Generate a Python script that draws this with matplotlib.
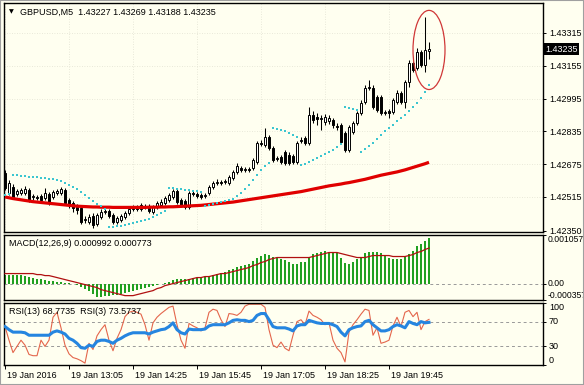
import numpy as np
import matplotlib
matplotlib.use("Agg")
import matplotlib.pyplot as plt
from matplotlib.patches import Ellipse, Rectangle
from matplotlib.transforms import ScaledTranslation

plt.rcParams['font.family'] = ['Liberation Sans', 'DejaVu Sans']
plt.rcParams['font.size'] = 6.5

# GBPUSD M5 candles
opens = np.array([
    1.42632, 1.42534, 1.42563, 1.42529, 1.42534, 1.42534, 1.42549, 1.42515, 1.42515, 1.42520,
    1.42510, 1.42529, 1.42515, 1.42534, 1.42534, 1.42549, 1.42500, 1.42485, 1.42466, 1.42461,
    1.42402, 1.42393, 1.42422, 1.42383, 1.42417, 1.42441, 1.42446, 1.42427, 1.42393, 1.42402,
    1.42417, 1.42437, 1.42456, 1.42461, 1.42456, 1.42471, 1.42471, 1.42441, 1.42466, 1.42476,
    1.42485, 1.42500, 1.42515, 1.42544, 1.42500, 1.42495, 1.42466, 1.42534, 1.42529, 1.42524,
    1.42520, 1.42534, 1.42563, 1.42583, 1.42588, 1.42588, 1.42583, 1.42607, 1.42637, 1.42656,
    1.42646, 1.42651, 1.42656, 1.42685, 1.42778, 1.42768, 1.42807, 1.42754, 1.42700, 1.42710,
    1.42734, 1.42720, 1.42715, 1.42685, 1.42788, 1.42803, 1.42778, 1.42915, 1.42905, 1.42895,
    1.42881, 1.42886, 1.42890, 1.42861, 1.42866, 1.42827, 1.42744, 1.42832, 1.42876, 1.42925,
    1.42978, 1.43047, 1.43047, 1.43003, 1.43003, 1.42925, 1.42934, 1.42929, 1.42978, 1.43022,
    1.42978, 1.43076, 1.43169, 1.43144, 1.43222, 1.43159, 1.43227])
highs = np.array([
    1.42646, 1.42598, 1.42578, 1.42554, 1.42559, 1.42568, 1.42559, 1.42529, 1.42524, 1.42529,
    1.42559, 1.42539, 1.42549, 1.42554, 1.42563, 1.42559, 1.42510, 1.42495, 1.42480, 1.42471,
    1.42422, 1.42432, 1.42437, 1.42437, 1.42456, 1.42456, 1.42456, 1.42437, 1.42422, 1.42432,
    1.42446, 1.42471, 1.42476, 1.42476, 1.42485, 1.42480, 1.42480, 1.42476, 1.42495, 1.42505,
    1.42520, 1.42534, 1.42554, 1.42559, 1.42510, 1.42505, 1.42544, 1.42544, 1.42539, 1.42534,
    1.42534, 1.42573, 1.42593, 1.42602, 1.42598, 1.42602, 1.42622, 1.42646, 1.42681, 1.42666,
    1.42661, 1.42661, 1.42705, 1.42788, 1.42793, 1.42851, 1.42817, 1.42764, 1.42715, 1.42720,
    1.42744, 1.42734, 1.42724, 1.42788, 1.42807, 1.42812, 1.42954, 1.42934, 1.42925, 1.42915,
    1.42920, 1.42915, 1.42900, 1.42876, 1.42876, 1.42837, 1.42866, 1.42886, 1.42934, 1.42988,
    1.43061, 1.43086, 1.43061, 1.43012, 1.43012, 1.42939, 1.42944, 1.42998, 1.43037, 1.43032,
    1.43086, 1.43183, 1.43178, 1.43242, 1.43232, 1.43393, 1.43269])
lows = np.array([
    1.42549, 1.42524, 1.42505, 1.42520, 1.42524, 1.42524, 1.42490, 1.42500, 1.42500, 1.42490,
    1.42500, 1.42476, 1.42505, 1.42524, 1.42524, 1.42476, 1.42461, 1.42441, 1.42432, 1.42383,
    1.42388, 1.42383, 1.42363, 1.42373, 1.42407, 1.42432, 1.42412, 1.42383, 1.42383, 1.42393,
    1.42407, 1.42427, 1.42446, 1.42446, 1.42446, 1.42456, 1.42437, 1.42432, 1.42456, 1.42466,
    1.42476, 1.42490, 1.42505, 1.42480, 1.42466, 1.42456, 1.42456, 1.42520, 1.42510, 1.42505,
    1.42510, 1.42524, 1.42554, 1.42573, 1.42573, 1.42578, 1.42573, 1.42598, 1.42627, 1.42637,
    1.42637, 1.42637, 1.42646, 1.42676, 1.42764, 1.42759, 1.42744, 1.42685, 1.42690, 1.42676,
    1.42671, 1.42671, 1.42676, 1.42676, 1.42778, 1.42768, 1.42768, 1.42876, 1.42866, 1.42842,
    1.42866, 1.42871, 1.42851, 1.42842, 1.42773, 1.42734, 1.42734, 1.42822, 1.42866, 1.42915,
    1.42968, 1.43037, 1.42944, 1.42929, 1.42915, 1.42915, 1.42900, 1.42920, 1.42968, 1.42968,
    1.42949, 1.43051, 1.43125, 1.43134, 1.43149, 1.43125, 1.43188])
closes = np.array([
    1.42559, 1.42583, 1.42515, 1.42544, 1.42549, 1.42554, 1.42500, 1.42520, 1.42510, 1.42500,
    1.42534, 1.42485, 1.42539, 1.42544, 1.42554, 1.42485, 1.42476, 1.42461, 1.42451, 1.42393,
    1.42407, 1.42417, 1.42378, 1.42427, 1.42441, 1.42446, 1.42422, 1.42393, 1.42412, 1.42422,
    1.42437, 1.42456, 1.42461, 1.42456, 1.42476, 1.42466, 1.42446, 1.42466, 1.42485, 1.42490,
    1.42510, 1.42524, 1.42544, 1.42490, 1.42476, 1.42466, 1.42534, 1.42529, 1.42520, 1.42515,
    1.42524, 1.42563, 1.42583, 1.42588, 1.42583, 1.42593, 1.42612, 1.42637, 1.42666, 1.42646,
    1.42651, 1.42646, 1.42695, 1.42778, 1.42773, 1.42807, 1.42754, 1.42695, 1.42705, 1.42685,
    1.42681, 1.42681, 1.42685, 1.42778, 1.42793, 1.42778, 1.42915, 1.42890, 1.42895, 1.42900,
    1.42905, 1.42900, 1.42866, 1.42856, 1.42783, 1.42744, 1.42856, 1.42876, 1.42925, 1.42973,
    1.43047, 1.43051, 1.42954, 1.42939, 1.42925, 1.42929, 1.42925, 1.42988, 1.43022, 1.42978,
    1.43076, 1.43169, 1.43134, 1.43222, 1.43159, 1.43232, 1.43235])

# moving average (thick red)
ma = np.array([
    1.42515, 1.42511, 1.42507, 1.42504, 1.42501, 1.42498, 1.42495, 1.42492, 1.42490, 1.42488,
    1.42486, 1.42484, 1.42482, 1.42480, 1.42478, 1.42476, 1.42474, 1.42472, 1.42470, 1.42469,
    1.42468, 1.42467, 1.42466, 1.42466, 1.42465, 1.42465, 1.42465, 1.42464, 1.42464, 1.42464,
    1.42464, 1.42464, 1.42464, 1.42464, 1.42464, 1.42464, 1.42465, 1.42465, 1.42465, 1.42466,
    1.42466, 1.42467, 1.42467, 1.42468, 1.42469, 1.42470, 1.42471, 1.42472, 1.42473, 1.42474,
    1.42476, 1.42478, 1.42480, 1.42482, 1.42484, 1.42486, 1.42488, 1.42490, 1.42493, 1.42496,
    1.42499, 1.42502, 1.42505, 1.42508, 1.42511, 1.42514, 1.42517, 1.42520, 1.42523, 1.42526,
    1.42529, 1.42532, 1.42535, 1.42538, 1.42541, 1.42545, 1.42549, 1.42553, 1.42557, 1.42561,
    1.42565, 1.42569, 1.42572, 1.42575, 1.42578, 1.42582, 1.42585, 1.42589, 1.42593, 1.42597,
    1.42601, 1.42606, 1.42611, 1.42616, 1.42621, 1.42625, 1.42629, 1.42633, 1.42637, 1.42642,
    1.42647, 1.42653, 1.42659, 1.42665, 1.42671, 1.42677, 1.42684])

# parabolic SAR (cyan dots)
sar = np.array([
    1.42524, 1.42529,
    1.42622, 1.42622, 1.42617, 1.42617, 1.42612, 1.42612, 1.42612, 1.42607, 1.42607, 1.42602,
    1.42602, 1.42598, 1.42593, 1.42583, 1.42573, 1.42563, 1.42554, 1.42539, 1.42524, 1.42510,
    1.42495, 1.42480, 1.42471, 1.42456,
    1.42368, 1.42368, 1.42373, 1.42373, 1.42378, 1.42383, 1.42388, 1.42393, 1.42398, 1.42402,
    1.42407, 1.42417, 1.42427, 1.42437, 1.42446,
    1.42559, 1.42559, 1.42554, 1.42554, 1.42549, 1.42549, 1.42544, 1.42544, 1.42539,
    1.42471, 1.42476, 1.42480, 1.42485, 1.42490, 1.42495, 1.42500, 1.42505, 1.42520, 1.42534,
    1.42554, 1.42573, 1.42598, 1.42622, 1.42646, 1.42666, 1.42681,
    1.42851, 1.42846, 1.42842, 1.42837, 1.42827, 1.42817, 1.42807,
    1.42671, 1.42676, 1.42685, 1.42695, 1.42705, 1.42715, 1.42724, 1.42734, 1.42744, 1.42759,
    1.42773,
    1.42954, 1.42949, 1.42944, 1.42939,
    1.42734, 1.42749, 1.42764, 1.42778, 1.42798, 1.42817, 1.42837, 1.42851, 1.42866, 1.42886,
    1.42900, 1.42915, 1.42934, 1.42954, 1.42973, 1.42998, 1.43027, 1.43061])

# MACD(12,26,9): histogram and signal line
macd_main = np.array([
    196e-6, 196e-6, 196e-6, 196e-6, 196e-6, 174e-6, 153e-6, 131e-6, 109e-6, 109e-6,
    87e-6, 65e-6, 65e-6, 44e-6, 44e-6, 22e-6, 22e-6, 0.0, -22e-6, -65e-6,
    -109e-6, -153e-6, -218e-6, -283e-6, -283e-6, -262e-6, -262e-6, -240e-6, -240e-6, -218e-6,
    -196e-6, -174e-6, -153e-6, -131e-6, -109e-6, -87e-6, -65e-6, -44e-6, -22e-6, 0.0,
    22e-6, 44e-6, 87e-6, 109e-6, 109e-6, 109e-6, 109e-6, 131e-6, 131e-6, 153e-6,
    153e-6, 174e-6, 196e-6, 218e-6, 240e-6, 262e-6, 305e-6, 327e-6, 371e-6, 392e-6,
    414e-6, 436e-6, 501e-6, 567e-6, 610e-6, 654e-6, 632e-6, 589e-6, 567e-6, 545e-6,
    523e-6, 480e-6, 436e-6, 436e-6, 480e-6, 480e-6, 589e-6, 654e-6, 676e-6, 698e-6,
    719e-6, 698e-6, 698e-6, 676e-6, 567e-6, 458e-6, 436e-6, 480e-6, 545e-6, 589e-6,
    676e-6, 698e-6, 698e-6, 698e-6, 676e-6, 632e-6, 567e-6, 545e-6, 545e-6, 545e-6,
    589e-6, 654e-6, 719e-6, 807e-6, 872e-6, 916e-6, 992e-6])
macd_signal = np.array([
    218e-6, 218e-6, 218e-6, 218e-6, 218e-6, 218e-6, 218e-6, 218e-6, 196e-6, 196e-6,
    174e-6, 174e-6, 153e-6, 131e-6, 109e-6, 87e-6, 65e-6, 44e-6, 22e-6, 0.0,
    -22e-6, -44e-6, -65e-6, -87e-6, -131e-6, -153e-6, -174e-6, -196e-6, -218e-6, -240e-6,
    -262e-6, -262e-6, -262e-6, -240e-6, -218e-6, -196e-6, -174e-6, -153e-6, -109e-6, -87e-6,
    -44e-6, -22e-6, 0.0, 22e-6, 44e-6, 65e-6, 87e-6, 109e-6, 131e-6, 131e-6,
    153e-6, 153e-6, 174e-6, 196e-6, 218e-6, 218e-6, 240e-6, 262e-6, 283e-6, 305e-6,
    327e-6, 349e-6, 392e-6, 414e-6, 458e-6, 480e-6, 523e-6, 545e-6, 567e-6, 567e-6,
    567e-6, 567e-6, 567e-6, 567e-6, 567e-6, 567e-6, 567e-6, 589e-6, 610e-6, 632e-6,
    654e-6, 676e-6, 676e-6, 676e-6, 654e-6, 632e-6, 610e-6, 589e-6, 567e-6, 567e-6,
    567e-6, 589e-6, 610e-6, 610e-6, 610e-6, 610e-6, 610e-6, 589e-6, 589e-6, 589e-6,
    589e-6, 610e-6, 632e-6, 676e-6, 698e-6, 741e-6, 773e-6])

# RSI(13) and RSI(3)
rsi13 = np.array([
    62, 57, 53, 53, 53, 52, 48, 48, 48, 48,
    48, 48, 53, 55, 53, 50, 43, 40, 35, 28,
    27, 32, 30, 38, 40, 40, 38, 35, 40, 43,
    47, 50, 52, 52, 52, 52, 50, 53, 55, 57,
    58, 62, 68, 57, 52, 50, 58, 57, 57, 57,
    58, 63, 65, 65, 65, 65, 68, 72, 73, 72,
    72, 70, 72, 80, 83, 83, 73, 62, 60, 60,
    60, 58, 55, 63, 65, 65, 72, 70, 68, 67,
    67, 67, 65, 62, 53, 47, 57, 60, 62, 63,
    70, 72, 65, 60, 55, 55, 57, 62, 65, 63,
    60, 70, 67, 65, 70, 68, 68.7735])
rsi3 = np.array([
    62, 40, 20, 30, 40, 32, 17, 15, 15, 40,
    30, 40, 77, 85, 60, 32, 18, 12, 10, 7,
    3, 35, 25, 47, 57, 65, 40, 23, 43, 57,
    78, 85, 87, 85, 82, 65, 40, 68, 77, 83,
    88, 93, 95, 65, 40, 27, 67, 63, 60, 55,
    60, 85, 90, 88, 73, 62, 83, 82, 80, 85,
    95, 98, 98, 98, 98, 93, 57, 32, 28, 37,
    27, 23, 48, 70, 73, 65, 87, 80, 77, 73,
    65, 68, 40, 27, 20, 5, 53, 65, 73, 82,
    90, 88, 48, 60, 35, 37, 40, 63, 77, 62,
    85, 88, 78, 85, 57, 70, 73.5737])

price_ticks = [1.42350, 1.42515, 1.42675, 1.42835, 1.42995, 1.43155, 1.43315]
last_price = 1.43235
time_pos = [0, 16, 32, 48, 64, 80, 96]
time_labels = ['19 Jan 2016', '19 Jan 13:05', '19 Jan 14:25', '19 Jan 15:45',
               '19 Jan 17:05', '19 Jan 18:25', '19 Jan 19:45']

W, H = 584, 385
BG = '#fffff0'
fig = plt.figure(figsize=(W / 100, H / 100), dpi=100, facecolor=BG)


def panel(top, bottom):
    a = fig.add_axes([4 / W, 1 - bottom / H, 539 / W, (bottom - top) / H])
    a.set_facecolor(BG)
    for s in a.spines.values():
        s.set_linewidth(1.0)
        s.set_color('black')
    a.set_xlim(-0.25, 134.5)
    a.yaxis.tick_right()
    a.tick_params(axis='y', direction='out', length=2.2, width=0.7, pad=2,
                  labelsize=6.5, colors='black')
    a.tick_params(axis='x', bottom=False, labelbottom=False)
    return a


x = np.arange(len(closes))

# ---- price panel
ax = panel(3, 232)
ax.set_ylim(1.42344, 1.43461)
for p in price_ticks[1:]:
    ax.axhline(p, color='#e2e2d2', lw=0.6, ls=(0, (1, 2)), zorder=0)
for t in time_pos:
    ax.axvline(t, color='#e2e2d2', lw=0.6, ls=(0, (1, 2)), zorder=0)

up = closes >= opens
ax.vlines(x, lows, highs, color='black', lw=0.75, zorder=2)
ax.bar(x[up], closes[up] - opens[up], bottom=opens[up], width=0.5,
       color='white', edgecolor='black', lw=0.7, zorder=3)
ax.bar(x[~up], closes[~up] - opens[~up], bottom=opens[~up], width=0.5,
       color='black', edgecolor='black', lw=0.7, zorder=3)
ax.plot(x, ma, color='#e00000', lw=2.3, zorder=4, solid_capstyle='butt')
ax.scatter(x, sar, s=4.2, marker='s', color='#3cc6d0', lw=0, zorder=5)

ax.add_patch(Ellipse((106, 1.43232), width=8, height=0.00386, fill=False,
                     edgecolor='#d03838', lw=0.9, zorder=6))

ax.set_yticks(price_ticks)
ax.set_yticklabels(['%.5f' % p for p in price_ticks])
ax.text(1.004, last_price, '%.5f' % last_price, transform=ax.get_yaxis_transform(),
        ha='left', va='center', color='white', fontsize=6.5,
        bbox=dict(boxstyle='square,pad=0.18', fc='black', ec='none'))

fig.text(9 / W, 1 - 12 / H, '\u25bc', fontsize=4.5, family='DejaVu Sans', va='center')
fig.text(20 / W, 1 - 12 / H, 'GBPUSD,M5  1.43227 1.43269 1.43188 1.43235', va='center')

# ---- MACD panel
am = panel(235, 300)
am.set_ylim(-0.000357, 0.001057)
am.axhline(0, color='#999999', lw=0.7, ls=(0, (3, 3)), zorder=0)
am.bar(x, macd_main, width=0.3, color='#20a020', lw=0, zorder=2)
am.plot(x, macd_signal, color='#b01010', lw=0.9, zorder=3)
am.set_yticks([0.001057, 0.0, -0.000357])
am.set_yticklabels(['0.001057', '0.00', '-0.000357'])
am.tick_params(axis='y', pad=1, labelsize=6.2)
for lbl, va in zip(am.get_yticklabels(), ['top', 'center', 'bottom']):
    lbl.set_va(va)
fig.text(9 / W, 1 - 244 / H, 'MACD(12,26,9) 0.000992 0.000773', va='center')

# ---- RSI panel
ar = panel(303, 365)
ar.set_ylim(0, 100)
for lv in (70, 30):
    ar.axhline(lv, color='#999999', lw=0.7, ls=(0, (3, 3)), zorder=0)
ar.plot(x, rsi3, color='#e4664c', lw=0.8, zorder=2)
ar.plot(x, rsi13, color='#2585e0', lw=2.2, zorder=3)
ar.set_yticks([100, 70, 30, 0])
ar.set_yticklabels(['100', '70', '30', '0'])
for lbl, va in zip(ar.get_yticklabels(), ['top', 'center', 'center', 'bottom']):
    lbl.set_va(va)
fig.text(9 / W, 1 - 312 / H, 'RSI(13) 68.7735  RSI(3) 73.5737', va='center')

ar.tick_params(axis='x', bottom=True, labelbottom=True, direction='out',
               length=3, width=0.7, pad=1.5, labelsize=6.5)
ar.set_xticks(time_pos)
ar.set_xticklabels(time_labels)
shift = ScaledTranslation(2 / 100, 0, fig.dpi_scale_trans)
for lbl in ar.get_xticklabels():
    lbl.set_ha('left')
    lbl.set_transform(lbl.get_transform() + shift)

fig.add_artist(Rectangle((0, 0), 1, 1, transform=fig.transFigure, fill=False,
                         edgecolor='#a0a0a0', lw=1.5))

fig.savefig('out.png', dpi=100, facecolor=BG)
